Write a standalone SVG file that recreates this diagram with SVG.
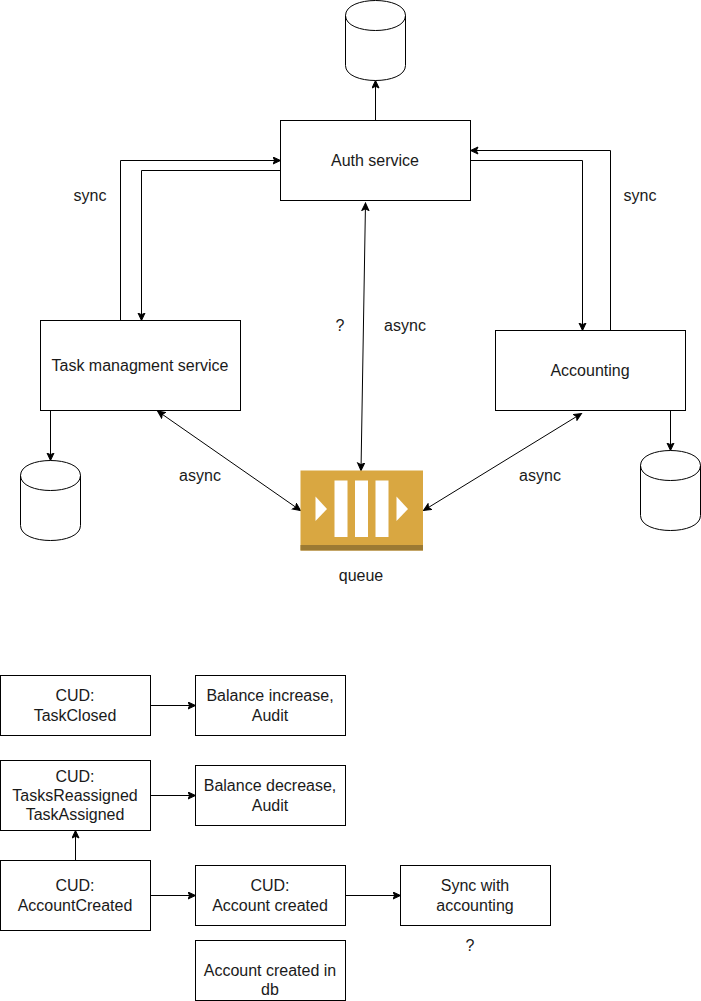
<svg xmlns="http://www.w3.org/2000/svg" width="701" height="1001" viewBox="0 0 701 1001">
<defs>
<marker id="a" markerUnits="userSpaceOnUse" markerWidth="9" markerHeight="9" refX="8" refY="4" orient="auto-start-reverse"><path d="M0.500 0.500L8 4L0.500 7.500L2.200 4Z" fill="#000" stroke="#000" stroke-width="1"/></marker>
</defs>
<style>
text{font-family:"Liberation Sans",Arial,sans-serif;font-size:16px;fill:#1a1a1a;text-anchor:middle}
.b{fill:#fff;stroke:#000;stroke-width:1}
.c{fill:none;stroke:#000;stroke-width:1}
.e{fill:none;stroke:#000;stroke-width:1;marker-end:url(#a)}
.d{fill:none;stroke:#000;stroke-width:1;marker-start:url(#a);marker-end:url(#a)}
</style>
<rect width="701" height="1001" fill="#fff"/>
<g id="connectors">
<path class="e" d="M375.500 120.500V80.500"/>
<path class="e" d="M120.500 320.500V160.500H280.500"/>
<path class="e" d="M280.500 170.500H141.500V320.500"/>
<path class="e" d="M610.500 330.500V150.500H470.500"/>
<path class="e" d="M470.500 160.500H582.500V330.500"/>
<path class="d" d="M365.500 203L361 470.500"/>
<path class="d" d="M157.500 411L300.500 510.500"/>
<path class="d" d="M581.500 413.500L423.500 510.500"/>
<path class="e" d="M50.500 410.500V460.500"/>
<path class="e" d="M670.500 410.500V450.500"/>
<path class="e" d="M150.500 705.500H195.500"/>
<path class="e" d="M150.500 795.500H195.500"/>
<path class="e" d="M75.500 860.500V830.500"/>
<path class="e" d="M150.500 895.500H195.500"/>
<path class="e" d="M345.500 895.500H400.500"/>
</g>
<g id="auth"><rect class="b" x="280.500" y="120.500" width="190" height="80"/><text x="375" y="166">Auth service</text></g>
<g id="task"><rect class="b" x="40.500" y="320.500" width="200" height="90"/><text x="140" y="371">Task managment service</text></g>
<g id="accounting"><rect class="b" x="495.500" y="330.500" width="190" height="80"/><text x="590" y="376">Accounting</text></g>
<g id="db-auth"><path class="b" d="M345.500 15.500C345.500 -4.500 405.500 -4.500 405.500 15.500V65.500C405.500 85.500 345.500 85.500 345.500 65.500Z"/><path class="c" d="M345.500 15.500C345.500 35.500 405.500 35.500 405.500 15.500"/></g>
<g id="db-task"><path class="b" d="M20.500 475.500C20.500 455.500 80.500 455.500 80.500 475.500V525.500C80.500 545.500 20.500 545.500 20.500 525.500Z"/><path class="c" d="M20.500 475.500C20.500 495.500 80.500 495.500 80.500 475.500"/></g>
<g id="db-accounting"><path class="b" d="M640.500 465.500C640.500 445.500 700.500 445.500 700.500 465.500V515.500C700.500 535.500 640.500 535.500 640.500 515.500Z"/><path class="c" d="M640.500 465.500C640.500 485.500 700.500 485.500 700.500 465.500"/></g>
<g id="queue">
<rect x="300.500" y="470.500" width="122.500" height="80" fill="#d9a741"/>
<rect x="300.500" y="545" width="122.500" height="5.500" fill="#9c7a33"/>
<rect x="334.500" y="480.500" width="13" height="56.500" fill="#fff"/>
<rect x="355" y="480.500" width="13" height="56.500" fill="#fff"/>
<rect x="375.500" y="480.500" width="13" height="56.500" fill="#fff"/>
<path d="M315.500 496.500L327 509L315.500 521Z" fill="#fff"/>
<path d="M396.500 496.500L408 509L396.500 521Z" fill="#fff"/>
<text x="361" y="581">queue</text>
</g>
<g id="n1"><rect class="b" x="0.500" y="675.500" width="150" height="60"/><text x="75" y="701">CUD:</text><text x="75" y="721">TaskClosed</text></g>
<g id="n2"><rect class="b" x="195.500" y="675.500" width="150" height="60"/><text x="270" y="701">Balance increase,</text><text x="270" y="721">Audit</text></g>
<g id="n3"><rect class="b" x="0.500" y="760.500" width="150" height="70"/><text x="75" y="782">CUD:</text><text x="75" y="801">TasksReassigned</text><text x="75" y="820">TaskAssigned</text></g>
<g id="n4"><rect class="b" x="195.500" y="765.500" width="150" height="60"/><text x="270" y="791">Balance decrease,</text><text x="270" y="811">Audit</text></g>
<g id="n5"><rect class="b" x="0.500" y="860.500" width="150" height="70"/><text x="75" y="891">CUD:</text><text x="75" y="911">AccountCreated</text></g>
<g id="n6"><rect class="b" x="195.500" y="865.500" width="150" height="60"/><text x="270" y="891">CUD:</text><text x="270" y="911">Account created</text></g>
<g id="n7"><rect class="b" x="400.500" y="865.500" width="150" height="60"/><text x="475" y="891">Sync with</text><text x="475" y="911">accounting</text></g>
<g id="n8"><rect class="b" x="195.500" y="940.500" width="150" height="60"/><text x="270" y="976">Account created in</text><text x="270" y="995">db</text></g>
<g id="labels">
<text x="90" y="201">sync</text>
<text x="640" y="201">sync</text>
<text x="340" y="331">?</text>
<text x="405" y="331">async</text>
<text x="200" y="481">async</text>
<text x="540" y="481">async</text>
<text x="470" y="951">?</text>
</g>
</svg>
